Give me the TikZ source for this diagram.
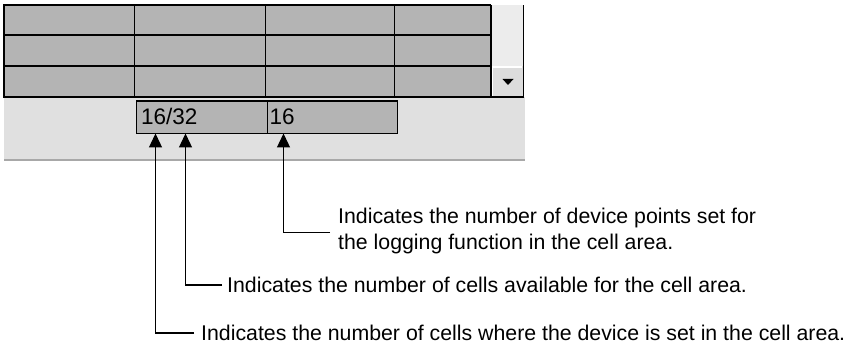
\documentclass[tikz,border=0pt]{standalone}
\usepackage{fontspec}
\setmainfont{Liberation Sans}
\usetikzlibrary{arrows.meta}
\definecolor{cellgray}{HTML}{B4B4B4}
\definecolor{panelgray}{HTML}{E0E0E0}
\definecolor{scrollgray}{HTML}{ECECEC}
\definecolor{btngray}{HTML}{DCDCDC}
\definecolor{shadowgray}{HTML}{A8A8A8}
\tikzset{
  gridline/.style={draw=black, line width=1.6pt},
  statusbox/.style={draw=black, line width=1.4pt, fill=cellgray},
  boxtext/.style={inner sep=0pt, anchor=base west, font=\fontsize{22.5}{26}\selectfont},
  desc/.style={inner sep=0pt, anchor=base west, font=\fontsize{21.3}{25}\selectfont},
  leader/.style={draw=black, line width=1.3pt},
  pointer/.style={leader, -{Triangle[length=14pt,width=13pt]}}
}
\begin{document}
\begin{tikzpicture}[x=1pt,y=-1pt]
\useasboundingbox (0,0) rectangle (845,347);
\fill[white] (0,0) rectangle (845,347);
% status panel
\fill[panelgray] (4,97) rectangle (525,161);
\draw[shadowgray, line width=1.2pt] (4,160) -- (525,160);
% table
\fill[cellgray] (4,5) rectangle (491,97);
\fill[scrollgray] (491,5) rectangle (523,66);
\fill[btngray] (491,66) rectangle (523,97);
\draw[white, line width=1.2pt] (492,96) -- (492,67) -- (522,67);
\fill[black] (502.5,79) -- (513.5,79) -- (508,85) -- cycle;
\foreach \y in {35,66} \draw[gridline] (4,\y) -- (491,\y);
\foreach \x in {134.5,265.5,394.5} \draw[gridline] (\x,5) -- (\x,97);
\draw[gridline] (491,5) -- (4,5) -- (4,97) -- (523.5,97) -- (523.5,5);
\draw[gridline] (491,5) -- (491,97);
% status boxes
\node[statusbox, minimum width=130.5pt, minimum height=32.5pt, anchor=north west, inner sep=0pt] (box1) at (136,100.5) {};
\node[statusbox, minimum width=130.5pt, minimum height=32.5pt, anchor=north west, inner sep=0pt] (box2) at (266.5,100.5) {};
\node[boxtext] (val1) at (141,125) {16/32};
\node[boxtext] (val2) at (269.5,125) {16};
% descriptions
\node[desc] (txtC1) at (338,224) {Indicates the number of device points set for};
\node[desc] (txtC2) at (338,249) {the logging function in the cell area.};
\node[desc] (txtB) at (227,292) {Indicates the number of cells available for the cell area.};
\node[desc] (txtA) at (201,340.5) {Indicates the number of cells where the device is set in the cell area.};
% connectors
\coordinate (tipA) at (155.5,133.5);
\coordinate (tipB) at (185.5,133.5);
\coordinate (tipC) at (283.5,133.5);
\coordinate (endA) at (194,333);
\coordinate (endB) at (222,285);
\coordinate (endC) at (330,232.5);
\draw[pointer] (endA) -| (tipA);
\draw[pointer] (endB) -| (tipB);
\draw[pointer] (endC) -| (tipC);
\end{tikzpicture}
\end{document}
